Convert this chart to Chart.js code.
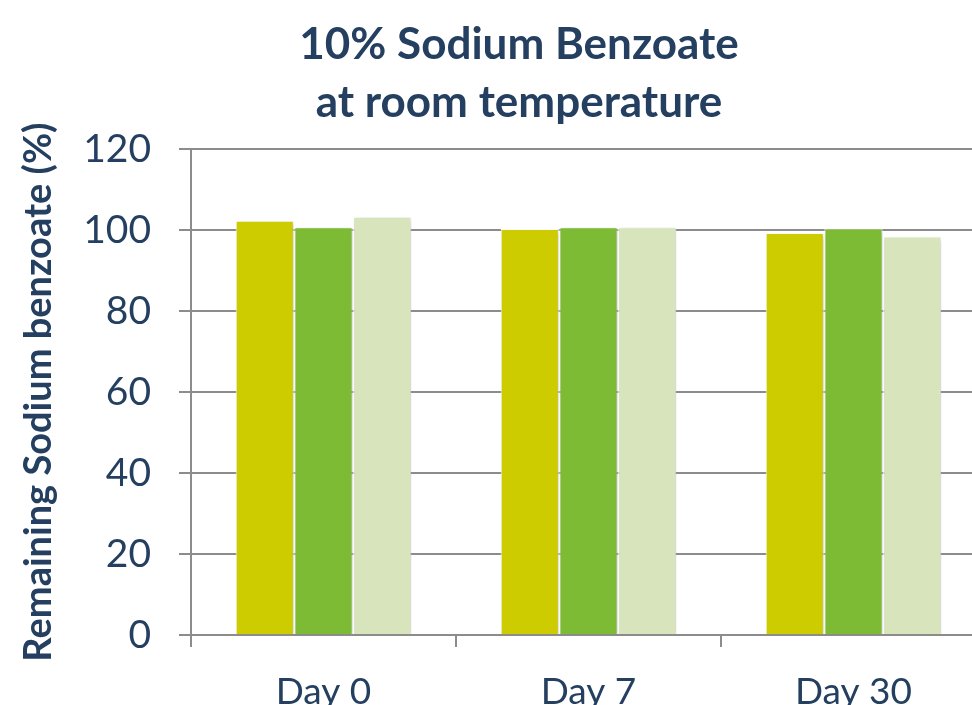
<!DOCTYPE html>
<html>
<head>
<meta charset="utf-8">
<script src="https://cdn.jsdelivr.net/npm/chart.js@4/dist/chart.umd.min.js"></script>
<style>
html,body{margin:0;padding:0;background:#fff;overflow:hidden;width:972px;height:705px;}
canvas{display:block;}
</style>
</head>
<body>
<canvas id="c" width="1040" height="720"></canvas>
<script>
const categories = ["Day 0", "Day 7", "Day 30"];
const series1 = [102.3, 100.3, 99.3];
const series2 = [100.7, 100.7, 100.4];
const series3 = [103.3, 100.7, 98.4];
const yTicks = [0, 20, 40, 60, 80, 100, 120];

const textColor = "#243F60";
const fontFam = "Lato, 'Open Sans', sans-serif";

const shadowPlugin = {
  id: "barShadow",
  beforeDatasetsDraw(chart) {
    const ctx = chart.ctx;
    ctx.save();
    ctx.shadowColor = "rgba(0,0,0,0.22)";
    ctx.shadowBlur = 5;
    ctx.shadowOffsetX = 2;
    ctx.shadowOffsetY = 2;
  },
  afterDatasetsDraw(chart) {
    chart.ctx.restore();
  }
};

new Chart(document.getElementById("c"), {
  type: "bar",
  data: {
    labels: categories,
    datasets: [
      { label: "A", data: series1, backgroundColor: "#CCCC00", borderColor: "#ffffff", borderWidth: 1 },
      { label: "B", data: series2, backgroundColor: "#7DBB35", borderColor: "#ffffff", borderWidth: 1 },
      { label: "C", data: series3, backgroundColor: "#D8E4BC", borderColor: "#ffffff", borderWidth: 1 }
    ]
  },
  plugins: [shadowPlugin],
  options: {
    responsive: false,
    animation: false,
    layout: { padding: { left: 16, right: 18, top: 0, bottom: 3 } },
    datasets: { bar: { categoryPercentage: 0.665, barPercentage: 0.99 } },
    plugins: {
      legend: { display: false },
      tooltip: { enabled: false },
      title: {
        display: true,
        text: ["10% Sodium Benzoate", "at room temperature"],
        color: textColor,
        font: { family: fontFam, size: 44, weight: "bold", lineHeight: 1.32 },
        padding: { top: 16, bottom: 17 }
      }
    },
    scales: {
      x: {
        grid: { display: true, drawOnChartArea: false, drawTicks: true, tickLength: 12, color: "#8c8c8c", lineWidth: 2, offset: true },
        border: { display: true, color: "#8c8c8c", width: 2 },
        ticks: { color: textColor, font: { family: fontFam, size: 37 }, padding: 23 },
        afterFit(axis) { axis.height = 82; }
      },
      y: {
        min: 0, max: 120,
        afterBuildTicks(axis) { axis.ticks = yTicks.map(v => ({ value: v })); },
        grid: { color: "#8c8c8c", lineWidth: 2, tickLength: 12, drawTicks: true },
        border: { display: true, color: "#8c8c8c", width: 2 },
        ticks: { color: textColor, font: { family: fontFam, size: 39 }, padding: 28 },
        title: {
          display: true,
          text: "Remaining Sodium benzoate (%)",
          color: textColor,
          font: { family: fontFam, size: 38, weight: "bold" },
          padding: { top: 0, bottom: 30 }
        },
        afterFit(axis) { axis.width = 175; }
      },
      y2: {
        position: "right",
        display: true,
        min: 0, max: 1,
        grid: { display: false },
        border: { display: false },
        ticks: { display: false },
        afterFit(axis) { axis.width = 36; }
      }
    }
  }
});
</script>
</body>
</html>
